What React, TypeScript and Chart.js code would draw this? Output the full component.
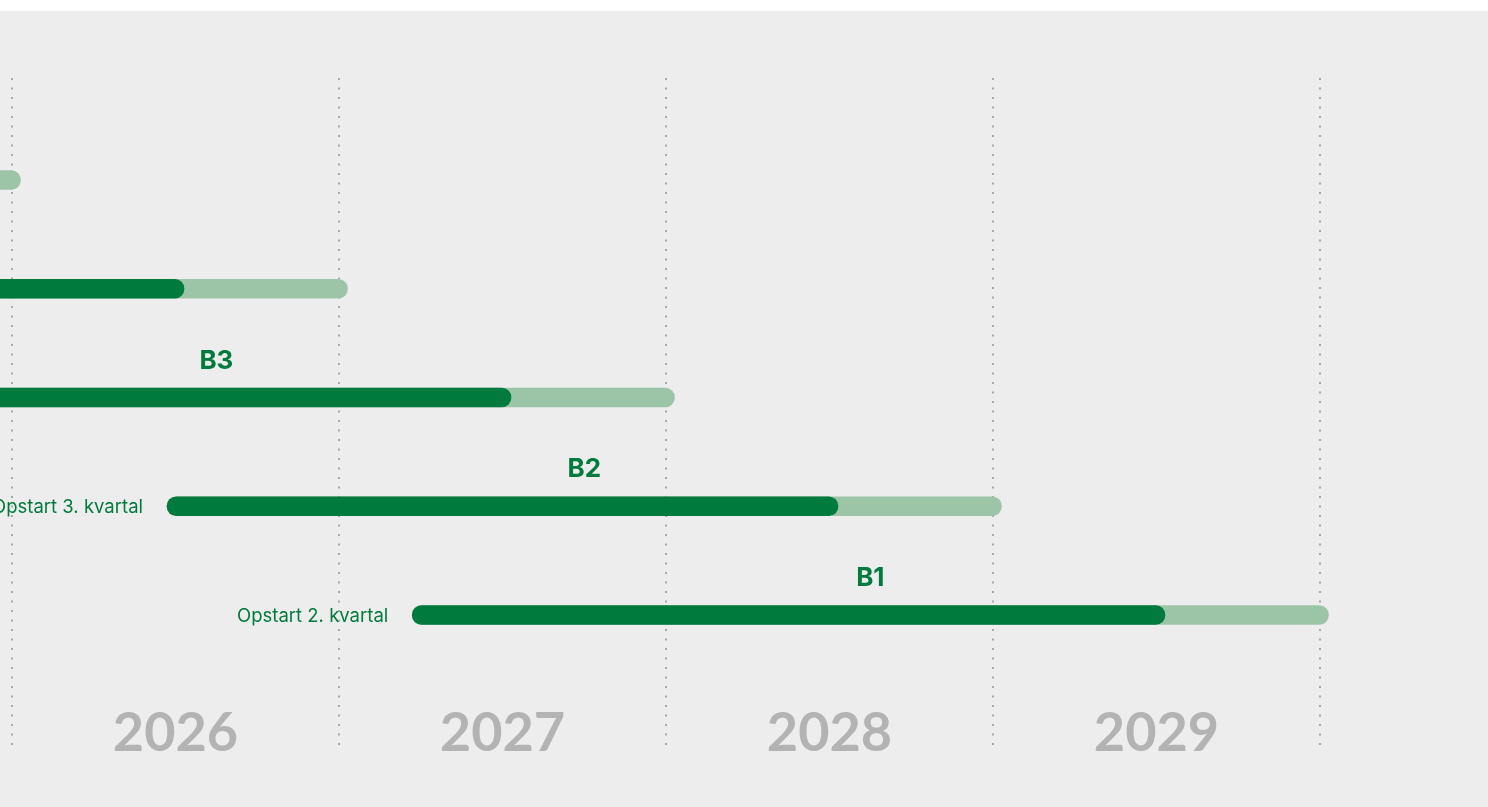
import { useEffect, useRef } from 'react';
import { Chart, registerables } from 'chart.js';

Chart.register(...registerables);

// ---- Data ----
const projects = ['B5', 'B4', 'B3', 'B2', 'B1'];
const rowIndex = [1, 2, 3, 4, 5];
const startYears = [2023.5, 2024.5, 2025.25, 2026.5, 2027.25];
const progressEnd = [2025.5, 2026.5, 2027.5, 2028.5, 2029.5];
const finishYears = [2026, 2027, 2028, 2029, 2030];
const startLabels = ['Opstart 3. kvartal', 'Opstart 3. kvartal', 'Opstart 2. kvartal', 'Opstart 3. kvartal', 'Opstart 2. kvartal'];
const yearBoundaries = [2026, 2027, 2028, 2029, 2030];
const yearLabels = ['2026', '2027', '2028', '2029'];

// ---- Style ----
const DARK = '#007a3d';
const LIGHT = '#9cc5a8';
const TEXT_GREEN = '#007a3d';
const YEAR_GRAY = '#b3b3b3';
const CAP = 0.026; // round-cap overhang in years
const FONT = 'Inter, "Noto Sans", sans-serif';

const labelsPlugin = {
  id: 'ganttLabels',
  afterDatasetsDraw(chart: any) {
    const { ctx, chartArea } = chart;
    const x = chart.scales.x;
    const y = chart.scales.y;
    ctx.save();
    // year labels between boundaries
    ctx.fillStyle = YEAR_GRAY;
    ctx.font = `700 54px Lato, ${FONT}`;
    ctx.textAlign = 'center';
    ctx.textBaseline = 'alphabetic';
    yearLabels.forEach((lbl, i) => {
      const px = x.getPixelForValue((yearBoundaries[i] + yearBoundaries[i + 1]) / 2);
      ctx.fillText(lbl, px, chartArea.bottom + 2);
    });
    // project names and start labels
    projects.forEach((name, i) => {
      const py = y.getPixelForValue(rowIndex[i]);
      const mid = x.getPixelForValue((startYears[i] + finishYears[i]) / 2);
      ctx.fillStyle = TEXT_GREEN;
      ctx.font = `700 26px ${FONT}`;
      ctx.textAlign = 'center';
      ctx.textBaseline = 'alphabetic';
      ctx.fillText(name, mid, py - 29);
      const sx = x.getPixelForValue(startYears[i] - CAP);
      ctx.font = `400 18.5px ${FONT}`;
      ctx.textAlign = 'right';
      ctx.textBaseline = 'middle';
      ctx.fillText(startLabels[i], sx - 24, py + 1);
    });
    ctx.restore();
  },
};

export default function App() {
  const ref = useRef<HTMLCanvasElement>(null);

  useEffect(() => {
    if (!ref.current) return;
    const chart = new Chart(ref.current, {
      type: 'bar',
      data: {
        datasets: [
          {
            label: 'Fremdrift',
            data: rowIndex.map((r, i) => ({ y: r, x: [startYears[i] - CAP, progressEnd[i] + CAP] })) as any,
            backgroundColor: DARK,
            borderRadius: 10,
            borderSkipped: false,
            barThickness: 19,
            grouped: false,
            order: 0,
          },
          {
            label: 'Samlet',
            data: rowIndex.map((r, i) => ({ y: r, x: [startYears[i] - CAP, finishYears[i] + CAP] })) as any,
            backgroundColor: LIGHT,
            borderRadius: 10,
            borderSkipped: false,
            barThickness: 19,
            grouped: false,
            order: 1,
          },
        ],
      },
      options: {
        indexAxis: 'y',
        animation: false,
        responsive: false,
        layout: { padding: { top: 67, bottom: 58, left: 0, right: 0 } },
        plugins: { legend: { display: false }, tooltip: { enabled: false } },
        scales: {
          x: {
            type: 'linear',
            min: 2026 - 12 / 327,
            max: 2026 + 1476 / 327,
            bounds: 'data',
            offset: false,
            afterBuildTicks: (axis: any) => {
              axis.ticks = yearBoundaries.map((v) => ({ value: v }));
            },
            ticks: { display: false },
            grid: { color: '#a8a8a8', lineWidth: 2, drawTicks: false, offset: false },
            border: { display: false, dash: [2, 7.5] },
          },
          y: {
            type: 'linear',
            reverse: true,
            min: 0.062,
            max: 6.232,
            bounds: 'data',
            offset: false,
            grace: 0,
            display: false,
            grid: { offset: false },
          },
        },
      },
      plugins: [labelsPlugin],
    });
    return () => chart.destroy();
  }, []);

  return (
    <div
      style={{
        position: 'absolute',
        left: 0,
        top: 11,
        width: 1488,
        height: 796,
        background: '#ededed',
      }}
    >
      <canvas ref={ref} width={1488} height={796} style={{ display: 'block' }} />
    </div>
  );
}
